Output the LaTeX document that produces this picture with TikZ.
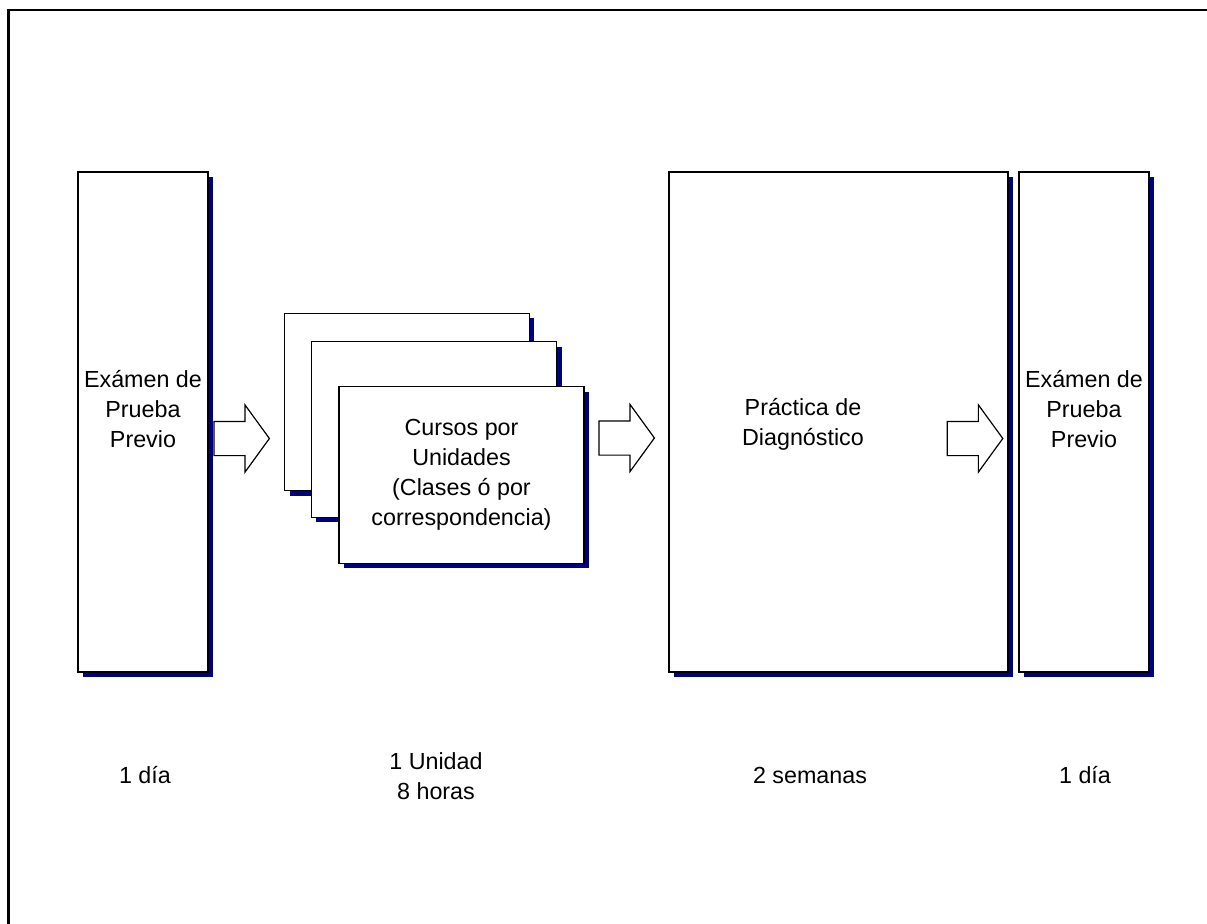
\documentclass[tikz,border=0pt]{standalone}
\usepackage{fontspec}
\setmainfont{Liberation Sans}
\usetikzlibrary{shapes.arrows,shadows,calc}
\definecolor{shadownavy}{RGB}{0,0,128}
\tikzset{
  panel/.style={draw=black, line width=1.5bp, fill=white, inner sep=0pt,
    general shadow={shadow xshift=5bp, shadow yshift=-5bp, fill=shadownavy}},
  flowarrow/.style={single arrow, draw=black, line width=1.2bp, fill=white,
    inner sep=0pt, text height=16.5bp, text depth=16.5bp, text width=0pt,
    minimum height=55.5bp, minimum width=66bp,
    single arrow head extend=16.5bp, single arrow tip angle=108,
    single arrow head indent=0pt, anchor=tail},
  caption/.style={font=\fontsize{23.3bp}{30bp}\selectfont, align=center, inner sep=0pt},
}
\begin{document}
\begin{tikzpicture}[x=1bp,y=-1bp]
  \useasboundingbox (0,0) rectangle (1207,924);
  \clip (0,0) rectangle (1207,924);

  % page frame (only top and left edges fall inside the page)
  \draw[line width=2.5bp] (8.5,940) -- (8.5,10) -- (1220,10);

  % stages
  \node[panel, minimum width=130bp, minimum height=500bp] (exam1) at (143,422) {};
  \node[caption] (exam1txt) at (143,409) {Exámen de\\Prueba\\Previo};

  \node[panel, minimum width=244.6bp, minimum height=177.4bp] (unitA) at (407,402) {};
  \node[panel, minimum width=245.4bp, minimum height=175.6bp] (unitB) at (434,429.5) {};
  \node[panel, minimum width=245bp, minimum height=176.6bp, caption] (unitC) at (461.5,475)
    {Cursos por\\Unidades\\(Clases ó por\\correspondencia)};

  \node[panel, minimum width=339bp, minimum height=500bp] (diag) at (838.5,422) {};
  \node[caption] (diagtxt) at (803,424) {Práctica de\\Diagnóstico};

  \node[panel, minimum width=130bp, minimum height=500bp] (exam2) at (1084,422) {};
  \node[caption] (exam2txt) at (1084,409) {Exámen de\\Prueba\\Previo};

  % block arrows between stages
  \node[flowarrow] (arr1) at (213.3,438.5) {};
  \node[flowarrow] (arr2) at (598.3,438) {};
  \node[flowarrow] (arr3) at (946.7,438.5) {};

  % durations
  \node[caption] (dur1) at (145,775) {1 día};
  \node[caption] (dur2) at (436,776) {1 Unidad\\8 horas};
  \node[caption] (dur3) at (810,775) {2 semanas};
  \node[caption] (dur4) at (1085,775) {1 día};
\end{tikzpicture}
\end{document}
